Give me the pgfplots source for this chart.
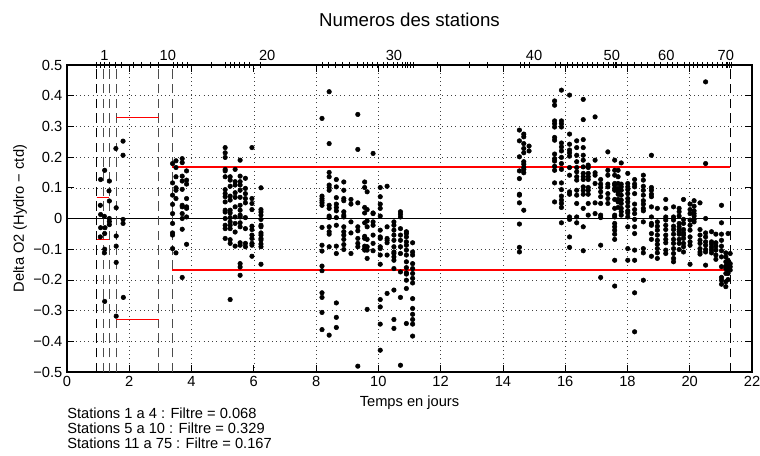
\documentclass[border=0pt]{standalone}
\usepackage{pgfplots}
\pgfplotsset{compat=1.18}
\usepackage{fontspec}
\setmainfont{Liberation Sans}
\definecolor{filtred}{RGB}{255,0,0}

% Delta O2 samples (time in days, Hydro - ctd), one block per group of stations
\pgfplotstableread{
t v
1.08 0.127
1.21 0.157
1.07 0.043
1.08 0.013
1.21 -0.049
1.08 -0.030
1.20 0.007
1.22 -0.030
1.07 -0.060
1.21 -0.100
1.20 -0.112
1.21 -0.270
1.36 0.122
1.35 0.090
1.36 0.057
1.36 0.000
1.36 -0.020
1.36 -0.010
1.57 0.228
1.58 0.035
1.58 -0.057
1.58 -0.090
1.58 -0.143
1.58 -0.318
1.80 0.252
1.80 0.206
1.80 -0.003
1.80 -0.016
1.81 -0.257
}\grpA

\pgfplotstableread{
t v
3.39 0.179
3.39 0.116
3.39 0.076
3.39 0.046
3.39 0.016
3.39 -0.016
3.39 -0.047
3.39 -0.054
3.39 -0.098
3.50 0.188
3.50 0.166
3.50 0.136
3.50 0.100
3.50 0.092
3.50 0.065
3.50 -0.112
3.70 0.195
3.70 0.182
3.70 0.138
3.70 0.122
3.70 0.095
3.70 0.043
3.70 0.038
3.70 0.016
3.70 0.000
3.70 -0.035
3.70 -0.192
3.84 0.155
3.84 0.125
3.84 0.112
3.84 0.065
3.84 0.038
3.84 0.033
3.84 0.005
3.84 -0.084
5.08 0.231
5.08 0.214
5.08 0.199
5.08 0.160
5.08 0.155
5.08 0.136
5.08 0.094
5.08 0.081
5.08 0.071
5.08 0.054
5.08 0.027
5.08 0.021
5.08 0.000
5.08 -0.022
5.08 -0.033
5.08 -0.065
5.24 0.136
5.24 0.125
5.24 0.105
5.24 0.073
5.24 0.060
5.24 0.027
5.24 0.018
5.24 0.003
5.24 -0.011
5.24 -0.022
5.24 -0.033
5.24 -0.069
5.24 -0.081
5.24 -0.264
5.40 0.160
5.40 0.120
5.40 0.109
5.40 0.084
5.40 0.069
5.40 0.038
5.40 0.005
5.40 -0.016
5.40 -0.044
5.40 -0.090
5.56 0.190
5.56 0.138
5.56 0.120
5.56 0.109
5.56 0.092
5.56 0.069
5.56 0.043
5.56 0.027
5.56 0.011
5.56 0.005
5.56 -0.014
5.56 -0.027
5.56 -0.079
5.56 -0.087
5.56 -0.147
5.56 -0.158
5.56 -0.185
5.73 0.131
5.73 0.098
5.73 0.081
5.73 0.065
5.73 0.051
5.73 0.003
5.73 -0.033
5.73 -0.081
5.73 -0.092
5.94 0.231
5.94 0.065
5.94 0.049
5.94 0.029
5.94 -0.025
5.94 -0.036
5.94 -0.054
5.94 -0.065
5.94 -0.081
5.94 -0.087
5.94 -0.123
6.23 0.100
6.23 0.029
6.23 0.021
6.23 0.011
6.23 -0.003
6.23 -0.022
6.23 -0.027
6.23 -0.047
6.23 -0.054
6.23 -0.065
6.23 -0.070
6.23 -0.083
6.23 -0.092
6.23 -0.149
}\grpB

\pgfplotstableread{
t v
8.19 0.326
8.19 0.073
8.19 0.065
8.19 0.058
8.19 0.051
8.19 0.043
8.19 -0.029
8.19 -0.087
8.19 -0.106
8.19 -0.155
8.19 -0.170
8.19 -0.242
8.19 -0.257
8.19 -0.306
8.19 -0.362
8.42 0.413
8.42 0.244
8.42 0.150
8.42 0.136
8.42 0.109
8.42 0.101
8.42 0.092
8.42 0.043
8.42 0.033
8.42 0.008
8.42 0.003
8.42 -0.027
8.42 -0.043
8.42 -0.051
8.42 -0.092
8.42 -0.380
8.65 0.127
8.65 0.103
8.65 0.068
8.65 0.047
8.65 0.036
8.65 0.025
8.65 0.003
8.65 -0.022
8.65 -0.090
8.65 -0.114
8.65 -0.275
8.65 -0.322
8.65 -0.355
8.89 0.119
8.89 0.092
8.89 0.065
8.89 0.058
8.89 0.022
8.89 0.011
8.89 0.005
8.89 -0.027
8.89 -0.043
8.89 -0.054
8.89 -0.068
8.89 -0.085
8.89 -0.101
9.12 0.062
9.12 0.047
9.12 -0.011
9.12 -0.047
9.12 -0.114
9.34 0.339
9.34 0.225
9.34 0.051
9.34 -0.027
9.34 -0.040
9.34 -0.065
9.34 -0.081
9.34 -0.092
9.34 -0.481
9.56 0.119
9.56 0.101
9.56 0.036
9.56 0.018
9.56 -0.014
9.56 -0.058
9.56 -0.065
9.56 -0.090
9.56 -0.098
9.56 -0.103
9.64 0.087
9.64 0.029
9.64 -0.008
9.64 -0.027
9.64 -0.068
9.64 -0.092
9.64 -0.103
9.64 -0.130
9.64 -0.296
9.83 0.212
9.83 0.018
9.83 0.016
9.83 -0.011
9.83 -0.022
9.83 -0.054
9.83 -0.081
9.83 -0.105
10.06 0.101
10.06 0.071
10.06 0.047
10.06 0.033
10.06 0.008
10.06 -0.038
10.06 -0.060
10.06 -0.065
10.06 -0.092
10.06 -0.098
10.06 -0.119
10.06 -0.149
10.06 -0.264
10.06 -0.288
10.06 -0.344
10.06 -0.429
10.28 0.105
10.28 -0.027
10.28 -0.065
10.28 -0.071
10.28 -0.079
10.28 -0.119
10.28 -0.244
10.50 -0.011
10.50 -0.022
10.50 -0.038
10.50 -0.054
10.50 -0.071
10.50 -0.092
10.50 -0.109
10.50 -0.114
10.50 -0.125
10.50 -0.136
10.50 -0.163
10.50 -0.233
10.50 -0.329
10.50 -0.358
10.71 0.022
10.71 0.014
10.71 0.005
10.71 -0.033
10.71 -0.054
10.71 -0.071
10.71 -0.092
10.71 -0.114
10.71 -0.174
10.71 -0.257
10.71 -0.478
10.90 -0.043
10.90 -0.049
10.90 -0.060
10.90 -0.076
10.90 -0.087
10.90 -0.103
10.90 -0.119
10.90 -0.141
10.90 -0.160
10.90 -0.177
10.90 -0.181
10.90 -0.201
10.90 -0.228
10.90 -0.342
11.10 -0.079
11.10 -0.109
11.10 -0.119
11.10 -0.147
11.10 -0.163
11.10 -0.179
11.10 -0.195
11.10 -0.210
11.10 -0.261
11.10 -0.293
11.10 -0.312
11.10 -0.329
11.10 -0.344
11.10 -0.383
}\grpC

\pgfplotstableread{
t v
14.53 0.288
14.53 0.253
14.53 0.201
14.53 0.155
14.53 0.130
14.53 0.079
14.53 0.076
14.53 0.051
14.53 -0.018
14.53 -0.094
14.53 -0.109
14.67 0.275
14.67 0.266
14.67 0.244
14.67 0.228
14.67 0.214
14.67 0.185
14.67 0.177
14.67 0.166
14.67 0.160
14.67 0.149
14.67 0.027
14.84 0.236
14.84 0.220
15.66 0.383
15.66 0.369
15.66 0.318
15.66 0.309
15.66 0.298
15.66 0.264
15.66 0.255
15.66 0.210
15.66 0.195
15.66 0.187
15.66 0.170
15.66 0.157
15.66 0.116
15.66 0.054
15.88 0.418
15.88 0.318
15.88 0.309
15.88 0.298
15.88 0.246
15.88 0.233
15.88 0.220
15.88 0.199
15.88 0.179
15.88 0.160
15.88 0.116
15.88 0.094
15.88 0.073
15.88 0.060
15.88 0.049
15.88 0.036
15.88 -0.014
16.14 0.402
16.14 0.275
16.14 0.242
16.14 0.223
16.14 0.214
16.14 0.203
16.14 0.166
16.14 0.141
16.14 0.087
16.14 0.079
16.14 0.005
16.14 -0.003
16.14 -0.060
16.14 -0.094
16.37 0.253
16.37 0.231
16.37 0.206
16.37 0.185
16.37 0.166
16.37 0.152
16.37 0.136
16.37 0.125
16.37 0.092
16.37 0.076
16.37 0.049
16.37 0.005
16.37 -0.014
16.58 0.388
16.58 0.322
16.58 0.257
16.58 0.231
16.58 0.206
16.58 0.190
16.58 0.168
16.58 0.147
16.58 0.136
16.58 0.127
16.58 0.103
16.58 0.092
16.58 0.079
16.58 0.033
16.58 -0.027
16.58 -0.105
16.74 0.174
16.74 0.166
16.74 0.147
16.74 0.136
16.74 0.127
16.74 0.101
16.74 0.092
16.74 0.079
16.74 0.049
16.74 0.011
16.96 0.331
16.96 0.190
16.96 0.149
16.96 0.141
16.96 0.114
16.96 0.051
16.96 0.016
17.14 0.127
17.14 0.112
17.14 0.101
17.14 0.087
17.14 0.071
17.14 0.049
17.14 0.011
17.14 0.003
17.14 -0.087
17.14 -0.192
17.37 0.217
17.37 0.157
17.37 0.141
17.37 0.112
17.37 0.103
17.37 0.081
17.37 0.065
17.37 0.049
17.59 0.190
17.59 0.157
17.59 0.141
17.59 0.114
17.59 0.109
17.59 0.098
17.59 0.092
17.59 0.062
17.59 0.033
17.59 0.011
17.59 0.005
17.59 -0.016
17.59 -0.027
17.59 -0.038
17.59 -0.051
17.59 -0.068
17.59 -0.136
17.59 -0.220
17.70 0.157
17.70 0.136
17.70 0.114
17.70 0.098
17.70 0.087
17.70 0.079
17.70 0.062
17.70 0.054
17.70 0.036
17.80 0.181
17.80 0.112
17.80 0.103
17.80 0.092
17.80 0.076
17.80 0.060
17.80 0.049
17.80 0.033
17.80 0.022
17.80 0.011
18.01 0.147
18.01 0.114
18.01 0.103
18.01 0.094
18.01 0.081
18.01 0.065
18.01 0.054
18.01 0.040
18.01 0.025
18.01 0.018
18.01 0.005
18.01 -0.027
18.01 -0.098
18.01 -0.136
18.23 0.127
18.23 0.112
18.23 0.103
18.23 0.081
18.23 0.047
18.23 0.029
18.23 0.016
18.23 -0.003
18.23 -0.027
18.23 -0.049
18.23 -0.103
18.23 -0.136
18.23 -0.242
18.23 -0.369
18.51 0.141
18.51 0.125
18.51 0.105
18.51 0.092
18.51 0.076
18.51 0.058
18.51 0.047
18.51 0.033
18.51 0.025
18.51 -0.011
18.51 -0.098
18.51 -0.112
18.51 -0.201
18.77 0.206
18.77 0.101
18.77 0.092
18.77 0.079
18.77 0.071
18.77 0.038
18.77 0.005
18.77 -0.016
18.77 -0.022
18.77 -0.049
18.77 -0.068
18.77 -0.123
18.96 0.033
18.96 -0.011
18.96 -0.025
18.96 -0.038
18.96 -0.054
18.96 -0.071
18.96 -0.084
18.96 -0.098
18.96 -0.112
18.96 -0.130
19.23 0.062
19.23 0.033
19.23 0.005
19.23 -0.005
19.23 -0.022
19.23 -0.036
19.23 -0.054
19.23 -0.068
19.23 -0.079
19.23 -0.103
19.23 -0.114
19.48 0.038
19.48 0.005
19.48 -0.005
19.48 -0.025
19.48 -0.036
19.48 -0.051
19.48 -0.068
19.48 -0.081
19.48 -0.098
19.48 -0.114
19.48 -0.130
19.48 -0.141
19.66 0.033
19.66 0.022
19.66 0.008
19.66 -0.016
19.66 -0.027
19.66 -0.036
19.66 -0.043
19.66 -0.051
19.66 -0.068
19.66 -0.081
19.66 -0.101
19.80 0.062
19.80 -0.003
19.80 -0.016
19.80 -0.036
19.80 -0.047
19.80 -0.054
19.80 -0.065
19.80 -0.081
19.80 -0.092
19.80 -0.109
20.01 0.047
20.01 0.029
20.01 0.016
20.01 -0.005
20.01 -0.022
20.01 -0.038
20.01 -0.060
20.01 -0.076
20.01 -0.087
20.01 -0.149
20.14 0.058
20.14 0.040
20.14 0.025
20.14 0.016
20.14 0.008
20.14 -0.003
20.14 -0.011
20.33 0.051
20.33 -0.036
20.33 -0.054
20.33 -0.071
20.33 -0.081
20.33 -0.098
20.33 -0.109
20.33 -0.116
20.51 0.445
20.51 0.179
20.51 0.000
20.51 -0.047
20.51 -0.060
20.51 -0.076
20.51 -0.087
20.51 -0.101
20.51 -0.109
20.51 -0.152
20.70 -0.043
20.70 -0.076
20.70 -0.084
20.70 -0.094
20.70 -0.103
20.70 -0.112
20.84 -0.051
20.84 -0.079
20.84 -0.090
20.84 -0.103
20.84 -0.119
20.84 -0.133
21.02 0.043
21.02 -0.014
21.02 -0.051
21.02 -0.071
21.02 -0.090
21.02 -0.105
21.02 -0.125
21.02 -0.157
21.02 -0.192
21.02 -0.201
21.02 -0.214
21.16 -0.112
21.16 -0.125
21.16 -0.141
21.16 -0.155
21.16 -0.163
21.16 -0.179
21.16 -0.206
21.16 -0.222
21.23 -0.049
21.23 -0.136
21.23 -0.144
21.23 -0.155
21.23 -0.168
21.23 -0.179
21.23 -0.199
21.30 -0.114
21.30 -0.147
21.30 -0.157
21.30 -0.168
}\grpD

\newcommand\txtfont{\fontsize{11}{13}\selectfont}

\begin{document}
\begin{tikzpicture}[x=1pt,y=1pt]
\useasboundingbox (-50.25,-62.25) rectangle (519.75,279);

\begin{axis}[
  name=main,
  at={(0,0)}, anchor=south west,
  width=513.75pt, height=230.25pt, scale only axis,
  xmin=0, xmax=22, ymin=-0.5, ymax=0.5,
  xtick={0,2,4,6,8,10,12,14,16,18,20,22},
  xticklabels={0,2,4,6,8,10,12,14,16,18,20,22},
  ytick={-0.5,-0.4,-0.3,-0.2,-0.1,0,0.1,0.2,0.3,0.4,0.5},
  yticklabels={−0.5,−0.4,−0.3,−0.2,−0.1,0,0.1,0.2,0.3,0.4,0.5},
  tick align=inside, major tick length=5pt,
  tick style={black, line width=0.5pt},
  axis line style={line width=0.8pt},
  grid=major,
  major grid style={black!75, line width=0.4pt, dash pattern=on 0.6pt off 2.6pt},
  tick label style={font=\txtfont},
  label style={font=\txtfont},
  xlabel={Temps en jours},
  ylabel={Delta O2 (Hydro − ctd)},
  ylabel style={yshift=-2pt},
]
% zero line
\addplot[black, line width=0.5pt] coordinates {(0,0) (22,0)};
% station group separators
\addplot[black, line width=0.6pt, dash pattern=on 7pt off 4pt] coordinates {(0.93,-0.5) (0.93,0.5)};
\addplot[black!70, line width=0.6pt, dash pattern=on 7pt off 4pt] coordinates {(1.17,-0.5) (1.17,0.5)};
\addplot[black!70, line width=0.6pt, dash pattern=on 7pt off 4pt] coordinates {(1.35,-0.5) (1.35,0.5)};
\addplot[black!70, line width=0.6pt, dash pattern=on 7pt off 4pt] coordinates {(1.58,-0.5) (1.58,0.5)};
\addplot[black!70, line width=0.6pt, dash pattern=on 7pt off 4pt] coordinates {(2.95,-0.5) (2.95,0.5)};
\addplot[black!70, line width=0.6pt, dash pattern=on 7pt off 4pt] coordinates {(3.37,-0.5) (3.37,0.5)};
\addplot[black, line width=0.6pt, dash pattern=on 7pt off 4pt] coordinates {(21.30,-0.5) (21.30,0.5)};
% samples
\addplot[only marks, mark=*, mark size=1.7pt, black] table[x=t, y=v] {\grpA};
\addplot[only marks, mark=*, mark size=1.7pt, black] table[x=t, y=v] {\grpB};
\addplot[only marks, mark=*, mark size=1.7pt, black] table[x=t, y=v] {\grpC};
\addplot[only marks, mark=*, mark size=1.7pt, black] table[x=t, y=v] {\grpD};
% filter thresholds
\addplot[filtred, line width=1.2pt, mark=none] coordinates {(0.95,0.068) (1.34,0.068)};
\addplot[filtred, line width=1.2pt, mark=none] coordinates {(0.95,-0.068) (1.34,-0.068)};
\addplot[filtred, line width=1.2pt, mark=none] coordinates {(1.58,0.329) (2.96,0.329)};
\addplot[filtred, line width=1.2pt, mark=none] coordinates {(1.58,-0.329) (2.96,-0.329)};
\addplot[filtred, line width=1.2pt, mark=none] coordinates {(3.37,0.167) (21.30,0.167)};
\addplot[filtred, line width=1.2pt, mark=none] coordinates {(3.37,-0.167) (21.30,-0.167)};
\end{axis}

\node[anchor=north west, inner sep=0pt, align=left, font=\fontsize{11}{11.25}\selectfont]
  at ([yshift=-27pt]main.south west)
  {Stations 1 a 4 : Filtre = 0.068\\Stations 5 a 10 : Filtre = 0.329\\Stations 11 a 75 : Filtre = 0.167};

% station numbers along the top
\begin{axis}[
  at={(0,0)}, anchor=south west,
  width=513.75pt, height=230.25pt, scale only axis,
  xmin=0, xmax=22, ymin=-0.5, ymax=0.5,
  axis x line*=top, hide y axis,
  axis line style={line width=0.8pt, -},
  xtick={0.95,1.08,1.21,1.36,1.54,1.76,2.13,2.40,2.67,2.94,3.40,3.55,3.72,3.85,4.65,5.08,5.24,5.37,5.54,5.69,5.86,6.20,
         8.19,8.40,8.62,8.83,9.08,9.31,9.53,9.64,9.80,9.98,10.17,10.30,10.47,10.60,10.76,10.87,10.94,11.03,11.13,11.89,12.93,13.50,14.57,14.70,14.84,
         15.69,15.83,16.07,16.23,16.39,16.55,16.72,16.88,17.04,17.23,17.38,17.56,17.60,17.64,17.79,18.01,18.22,18.43,18.65,18.86,19.07,19.29,19.45,19.61,19.82,19.99,20.12,20.25,20.41,20.57,20.73,20.89,21.05,21.16,21.21,21.26,21.32},
  xticklabel=\empty,
  tick align=center, major tick length=4.5pt,
  tick style={black, line width=0.5pt},
  extra x ticks={1.2,3.24,6.43,10.5,15.0,17.5,19.25,21.16},
  extra x tick labels={1,10,20,30,40,50,60,70},
  extra x tick style={major tick length=0pt},
  tick label style={font=\txtfont},
  title={Numeros des stations},
  title style={font=\fontsize{14}{16}\selectfont, yshift=19pt},
]
\end{axis}
\end{tikzpicture}
\end{document}
